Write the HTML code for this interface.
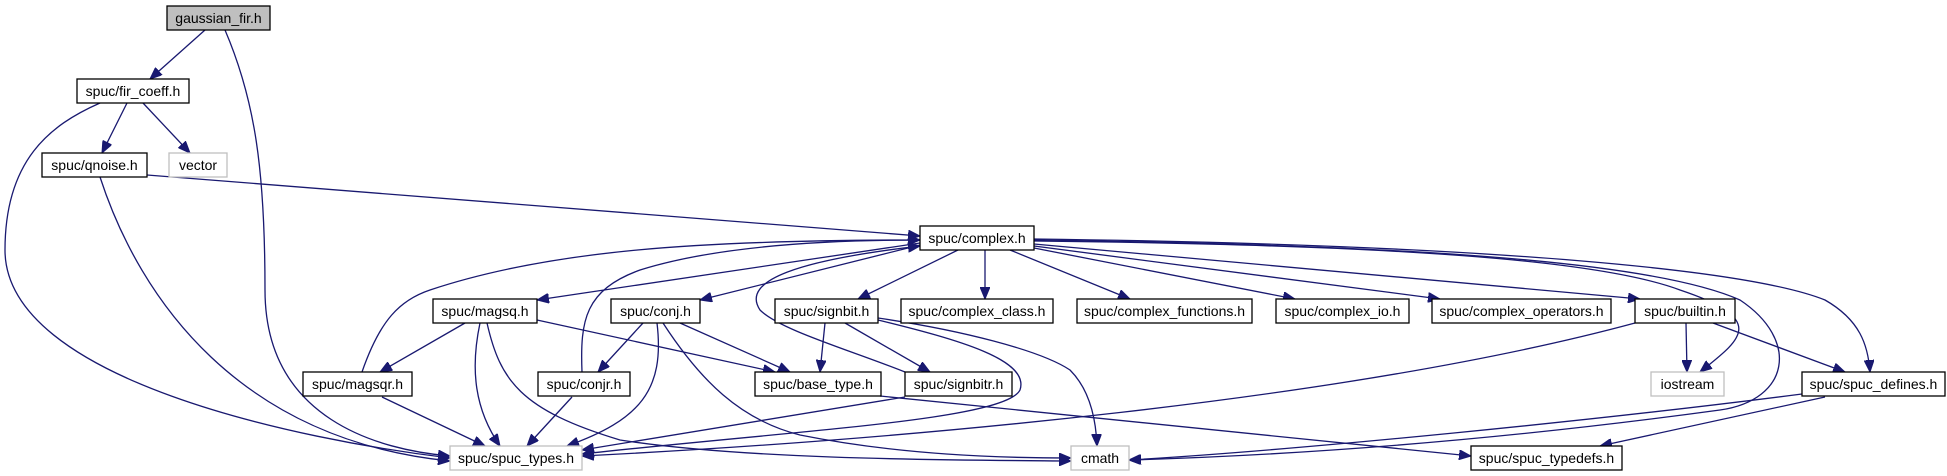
<!DOCTYPE html>
<html><head><meta charset="utf-8"><style>
html,body{margin:0;padding:0;background:#fff;}
svg{display:block;}
text{font-family:"Liberation Sans",Helvetica,Arial,sans-serif;font-size:14px;fill:#000;text-anchor:middle;}
.n{fill:#fff;stroke:#000;stroke-width:1.3;}
.g{fill:#fff;stroke:#bfbfbf;stroke-width:1.3;}
.e{fill:none;stroke:#191970;stroke-width:1.3;marker-end:url(#a);}
</style></head><body>
<svg width="1947" height="476" viewBox="0 0 1947 476" xmlns="http://www.w3.org/2000/svg">
<defs><marker id="a" viewBox="0 0 12 10" refX="12" refY="5" markerWidth="12" markerHeight="10" markerUnits="userSpaceOnUse" orient="auto"><path d="M0,0 L12,5 L0,10 z" fill="#191970" stroke="#191970"/></marker></defs>

<path class="e" d="M205,30 L150,79"/>
<path class="e" d="M225,30 C255,100 265,170 265,290 C265,420 380,450 450,456"/>
<path class="e" d="M127,103 L102,153"/>
<path class="e" d="M143,103 L190,153"/>
<path class="e" d="M100,103 C50,125 5,160 5,250 C5,380 300,440 450,458"/>
<path class="e" d="M147,175 L920,236"/>
<path class="e" d="M100,177 C140,300 240,440 450,461"/>
<path class="e" d="M920,243 L537,300"/>
<path class="e" d="M362,372 C380,320 400,300 430,290 C550,250 700,240 920,240"/>
<path class="e" d="M920,245 L700,300"/>
<path class="e" d="M582,372 C580,320 585,290 640,270 C720,245 830,240 920,240"/>
<path class="e" d="M905,372 C850,350 780,330 760,310 C740,280 800,260 920,246"/>
<path class="e" d="M958,250 L858,299"/>
<path class="e" d="M985,250 L985,299"/>
<path class="e" d="M1010,250 L1130,299"/>
<path class="e" d="M1034,248 L1295,299"/>
<path class="e" d="M1034,246 L1440,299"/>
<path class="e" d="M1034,244 L1640,299"/>
<path class="e" d="M1034,241 C1400,245 1600,260 1680,290 C1770,320 1740,340 1700,372"/>
<path class="e" d="M1034,240 C1400,245 1650,260 1740,300 C1800,340 1790,400 1720,410 C1500,440 1300,455 1129,460"/>
<path class="e" d="M1034,239 C1500,245 1750,270 1825,300 C1860,320 1868,345 1870,372"/>
<path class="e" d="M465,323 L380,372"/>
<path class="e" d="M480,323 C470,370 475,410 500,446"/>
<path class="e" d="M487,323 C500,380 520,410 620,440 C750,460 950,460 1071,461"/>
<path class="e" d="M537,320 L775,372"/>
<path class="e" d="M643,323 L598,372"/>
<path class="e" d="M657,323 C665,390 640,420 567,446"/>
<path class="e" d="M663,323 C700,380 740,420 800,435 C900,455 1000,458 1071,458"/>
<path class="e" d="M680,323 L790,372"/>
<path class="e" d="M825,323 L820,372"/>
<path class="e" d="M845,323 L930,372"/>
<path class="e" d="M878,320 C960,340 1030,360 1020,390 C1005,420 800,430 582,454"/>
<path class="e" d="M878,318 C960,330 1040,350 1070,370 C1090,390 1096,420 1097,446"/>
<path class="e" d="M382,397 L485,446"/>
<path class="e" d="M572,397 L527,446"/>
<path class="e" d="M880,396 L1471,456"/>
<path class="e" d="M905,397 L582,450"/>
<path class="e" d="M1635,323 C1350,400 900,440 582,456"/>
<path class="e" d="M1686,323 L1687,372"/>
<path class="e" d="M1713,323 L1845,372"/>
<path class="e" d="M1802,394 C1600,420 1300,450 1129,460"/>
<path class="e" d="M1825,397 L1600,446"/>

<rect x="167" y="6" width="103" height="24" fill="#bfbfbf" stroke="#000" stroke-width="1.3"/><text x="218.5" y="23">gaussian_fir.h</text>
<rect class="n" x="77" y="79" width="112" height="24"/><text x="133" y="96">spuc/fir_coeff.h</text>
<rect class="n" x="42" y="153" width="105" height="24"/><text x="94.5" y="170">spuc/qnoise.h</text>
<rect class="g" x="169" y="153" width="58" height="24"/><text x="198" y="170">vector</text>
<rect class="n" x="920" y="226" width="114" height="24"/><text x="977" y="243">spuc/complex.h</text>
<rect class="n" x="433" y="299" width="104" height="24"/><text x="485" y="316">spuc/magsq.h</text>
<rect class="n" x="611" y="299" width="89" height="24"/><text x="655.5" y="316">spuc/conj.h</text>
<rect class="n" x="775" y="299" width="103" height="24"/><text x="826.5" y="316">spuc/signbit.h</text>
<rect class="n" x="901" y="299" width="152" height="24"/><text x="977" y="316">spuc/complex_class.h</text>
<rect class="n" x="1077" y="299" width="175" height="24"/><text x="1164.5" y="316">spuc/complex_functions.h</text>
<rect class="n" x="1276" y="299" width="133" height="24"/><text x="1342.5" y="316">spuc/complex_io.h</text>
<rect class="n" x="1432" y="299" width="179" height="24"/><text x="1521.5" y="316">spuc/complex_operators.h</text>
<rect class="n" x="1635" y="299" width="100" height="24"/><text x="1685" y="316">spuc/builtin.h</text>
<rect class="n" x="303" y="372" width="109" height="24"/><text x="357.5" y="389">spuc/magsqr.h</text>
<rect class="n" x="538" y="372" width="92" height="24"/><text x="584" y="389">spuc/conjr.h</text>
<rect class="n" x="755" y="372" width="126" height="24"/><text x="818" y="389">spuc/base_type.h</text>
<rect class="n" x="905" y="372" width="107" height="24"/><text x="958.5" y="389">spuc/signbitr.h</text>
<rect class="g" x="1651" y="372" width="73" height="24"/><text x="1687.5" y="389">iostream</text>
<rect class="n" x="1802" y="372" width="143" height="24"/><text x="1873.5" y="389">spuc/spuc_defines.h</text>
<rect class="g" x="450" y="446" width="132" height="24"/><text x="516" y="463">spuc/spuc_types.h</text>
<rect class="g" x="1071" y="446" width="58" height="24"/><text x="1100" y="463">cmath</text>
<rect class="n" x="1471" y="446" width="151" height="24"/><text x="1546.5" y="463">spuc/spuc_typedefs.h</text>
</svg>
</body></html>
